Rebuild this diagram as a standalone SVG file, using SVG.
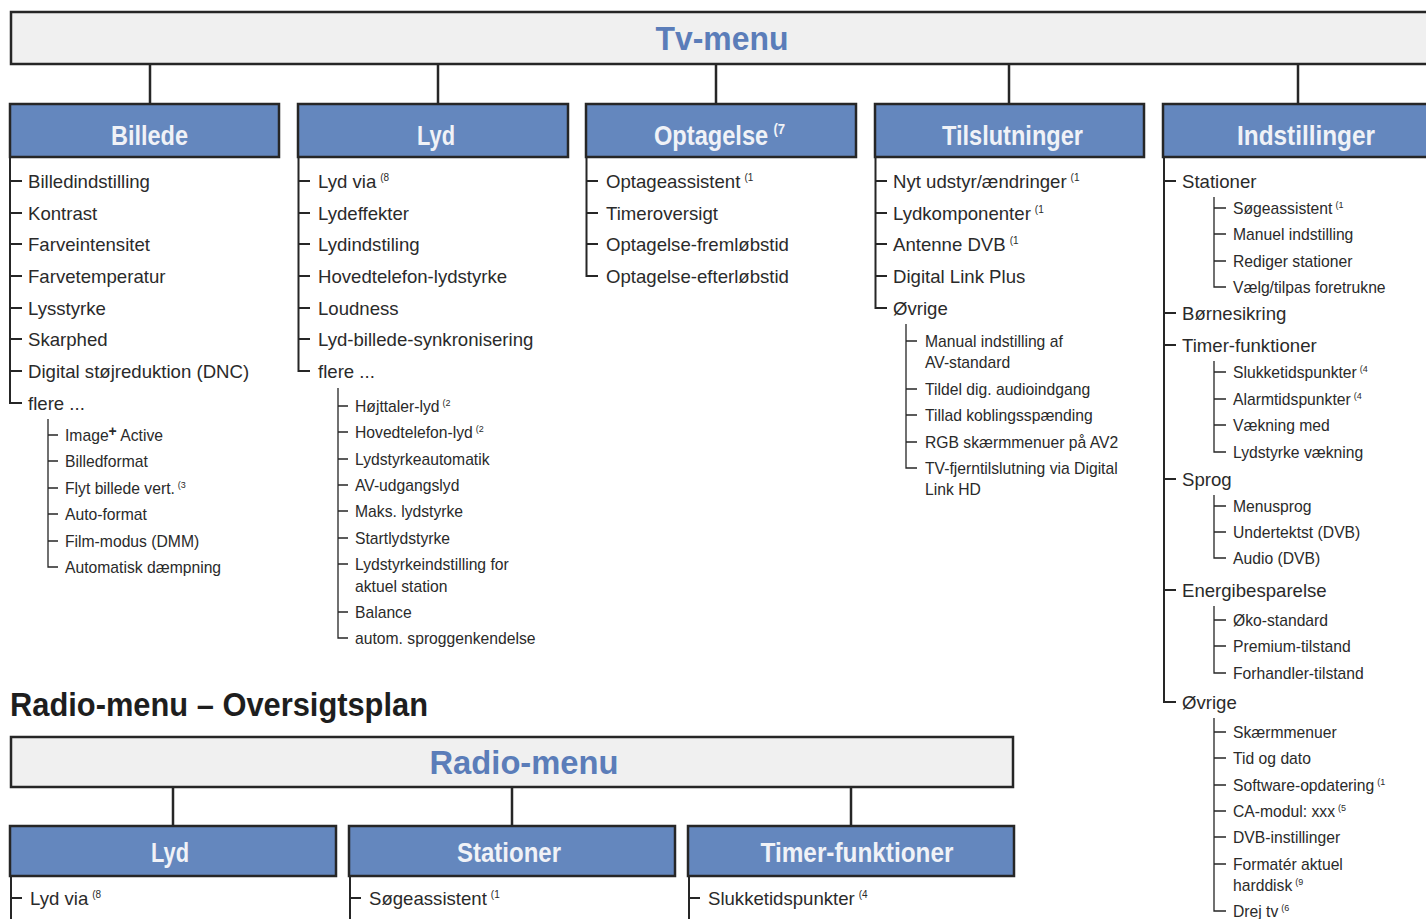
<svg xmlns="http://www.w3.org/2000/svg" width="1426" height="919" viewBox="0 0 1426 919">
<style>
text{font-family:"Liberation Sans",Arial,sans-serif;fill:#2a2a2a}
.bar{fill:#f0f0f0;stroke:#262626;stroke-width:2.5}
.box{fill:#6487be;stroke:#262626;stroke-width:2.5}
.mt{font-weight:bold;font-size:33px;fill:#5b7db9;text-anchor:middle}
.bt{font-weight:bold;font-size:27px;fill:#f0f2f7;text-anchor:middle}
.h{font-weight:bold;font-size:33px;fill:#1e1e1e}
.it{font-size:18.6px}
.si{font-size:15.7px}
.sup{font-size:10px}
.ln{stroke:#262626;stroke-width:2;fill:none}
.sl{stroke:#262626;stroke-width:1.3;fill:none}
.cn{stroke:#262626;stroke-width:2.5;fill:none}
</style>

<g id="connectors">
<path class="cn" d="M150 64V104M438 64V104M716 64V104M1009 64V104M1298 64V104"/>
<path class="cn" d="M173 787V826M512 787V826M851 787V826"/>
</g>

<g id="tv-menu">
<rect class="bar" x="11" y="12" width="1430" height="52"/>
<text class="mt" x="722" y="50" textLength="133" lengthAdjust="spacingAndGlyphs">Tv-menu</text>
</g>

<g id="billede">
<rect class="box" x="10" y="104" width="269" height="53"/>
<text class="bt" x="149.5" y="145" textLength="77" lengthAdjust="spacingAndGlyphs">Billede</text>
<path class="ln" d="M10 157V403H22M10 181H22M10 213H22M10 244H22M10 276H22M10 308H22M10 339H22M10 371H22"/>
<text class="it" x="28" y="188">Billedindstilling</text>
<text class="it" x="28" y="220">Kontrast</text>
<text class="it" x="28" y="251">Farveintensitet</text>
<text class="it" x="28" y="283">Farvetemperatur</text>
<text class="it" x="28" y="315">Lysstyrke</text>
<text class="it" x="28" y="346">Skarphed</text>
<text class="it" x="28" y="378">Digital støjreduktion (DNC)</text>
<text class="it" x="28" y="410">flere ...</text>
<path class="sl" d="M48 419V567H58M48 435H58M48 461H58M48 488H58M48 514H58M48 541H58"/>
<text class="si" x="65" y="441">Image<tspan font-weight="bold" font-size="14" dy="-5">+</tspan><tspan dy="5"> Active</tspan></text>
<text class="si" x="65" y="467">Billedformat</text>
<text class="si" x="65" y="494">Flyt billede vert.<tspan font-size="9" dx="3" dy="-6">(3</tspan></text>
<text class="si" x="65" y="520">Auto-format</text>
<text class="si" x="65" y="547">Film-modus (DMM)</text>
<text class="si" x="65" y="573">Automatisk dæmpning</text>
</g>

<g id="lyd">
<rect class="box" x="298" y="104" width="270" height="53"/>
<text class="bt" x="436" y="145" textLength="38" lengthAdjust="spacingAndGlyphs">Lyd</text>
<path class="ln" d="M298.5 157V371H310M298.5 181H310M298.5 213H310M298.5 244H310M298.5 276H310M298.5 308H310M298.5 339H310"/>
<text class="it" x="318" y="188">Lyd via<tspan class="sup" dx="4" dy="-7">(8</tspan></text>
<text class="it" x="318" y="220">Lydeffekter</text>
<text class="it" x="318" y="251">Lydindstiling</text>
<text class="it" x="318" y="283">Hovedtelefon-lydstyrke</text>
<text class="it" x="318" y="315">Loudness</text>
<text class="it" x="318" y="346">Lyd-billede-synkronisering</text>
<text class="it" x="318" y="378">flere ...</text>
<path class="sl" d="M338 388V638H348M338 406H348M338 432H348M338 459H348M338 485H348M338 511H348M338 538H348M338 564H348M338 612H348"/>
<text class="si" x="355" y="412">Højttaler-lyd<tspan font-size="9" dx="3" dy="-6">(2</tspan></text>
<text class="si" x="355" y="438">Hovedtelefon-lyd<tspan font-size="9" dx="3" dy="-6">(2</tspan></text>
<text class="si" x="355" y="465">Lydstyrkeautomatik</text>
<text class="si" x="355" y="491">AV-udgangslyd</text>
<text class="si" x="355" y="517">Maks. lydstyrke</text>
<text class="si" x="355" y="544">Startlydstyrke</text>
<text class="si" x="355" y="570">Lydstyrkeindstilling for</text>
<text class="si" x="355" y="592">aktuel station</text>
<text class="si" x="355" y="618">Balance</text>
<text class="si" x="355" y="644">autom. sproggenkendelse</text>
</g>

<g id="optagelse">
<rect class="box" x="586" y="104" width="270" height="53"/>
<text class="bt" transform="translate(654 145) scale(0.875 1)" style="text-anchor:start">Optagelse<tspan font-size="15" dx="6" dy="-11">(7</tspan></text>
<path class="ln" d="M586.5 157V276H598M586.5 181H598M586.5 213H598M586.5 244H598"/>
<text class="it" x="606" y="188">Optageassistent<tspan class="sup" dx="4" dy="-7">(1</tspan></text>
<text class="it" x="606" y="220">Timeroversigt</text>
<text class="it" x="606" y="251">Optagelse-fremløbstid</text>
<text class="it" x="606" y="283">Optagelse-efterløbstid</text>
</g>

<g id="tilslutninger">
<rect class="box" x="875" y="104" width="269" height="53"/>
<text class="bt" x="1012.5" y="145" textLength="141" lengthAdjust="spacingAndGlyphs">Tilslutninger</text>
<path class="ln" d="M875.5 157V308H887M875.5 181H887M875.5 213H887M875.5 244H887M875.5 276H887"/>
<text class="it" x="893" y="188">Nyt udstyr/ændringer<tspan class="sup" dx="4" dy="-7">(1</tspan></text>
<text class="it" x="893" y="220">Lydkomponenter<tspan class="sup" dx="4" dy="-7">(1</tspan></text>
<text class="it" x="893" y="251">Antenne DVB<tspan class="sup" dx="4" dy="-7">(1</tspan></text>
<text class="it" x="893" y="283">Digital Link Plus</text>
<text class="it" x="893" y="315">Øvrige</text>
<path class="sl" d="M906 324V468H917M906 341H917M906 389H917M906 415H917M906 442H917"/>
<text class="si" x="925" y="347">Manual indstilling af</text>
<text class="si" x="925" y="368">AV-standard</text>
<text class="si" x="925" y="395">Tildel dig. audioindgang</text>
<text class="si" x="925" y="421">Tillad koblingsspænding</text>
<text class="si" x="925" y="448">RGB skærmmenuer på AV2</text>
<text class="si" x="925" y="474">TV-fjerntilslutning via Digital</text>
<text class="si" x="925" y="495">Link HD</text>
</g>

<g id="indstillinger">
<rect class="box" x="1163" y="104" width="290" height="53"/>
<text class="bt" x="1306" y="145" textLength="138" lengthAdjust="spacingAndGlyphs">Indstillinger</text>
<path class="ln" d="M1164 157V702H1176M1164 181H1176M1164 313H1176M1164 345H1176M1164 479H1176M1164 590H1176"/>
<text class="it" x="1182" y="188">Stationer</text>
<text class="it" x="1182" y="320">Børnesikring</text>
<text class="it" x="1182" y="352">Timer-funktioner</text>
<text class="it" x="1182" y="486">Sprog</text>
<text class="it" x="1182" y="597">Energibesparelse</text>
<text class="it" x="1182" y="709">Øvrige</text>
<path class="sl" d="M1214 197V287H1226M1214 208H1226M1214 234H1226M1214 261H1226"/>
<text class="si" x="1233" y="214">Søgeassistent<tspan font-size="9" dx="3" dy="-6">(1</tspan></text>
<text class="si" x="1233" y="240">Manuel indstilling</text>
<text class="si" x="1233" y="267">Rediger stationer</text>
<text class="si" x="1233" y="293">Vælg/tilpas foretrukne</text>
<path class="sl" d="M1214 361V452H1226M1214 372H1226M1214 399H1226M1214 425H1226"/>
<text class="si" x="1233" y="378">Slukketidspunkter<tspan font-size="9" dx="3" dy="-6">(4</tspan></text>
<text class="si" x="1233" y="405">Alarmtidspunkter<tspan font-size="9" dx="3" dy="-6">(4</tspan></text>
<text class="si" x="1233" y="431">Vækning med</text>
<text class="si" x="1233" y="458">Lydstyrke vækning</text>
<path class="sl" d="M1214 495V558H1226M1214 506H1226M1214 532H1226"/>
<text class="si" x="1233" y="512">Menusprog</text>
<text class="si" x="1233" y="538">Undertektst (DVB)</text>
<text class="si" x="1233" y="564">Audio (DVB)</text>
<path class="sl" d="M1214 606V673H1226M1214 620H1226M1214 646H1226"/>
<text class="si" x="1233" y="626">Øko-standard</text>
<text class="si" x="1233" y="652">Premium-tilstand</text>
<text class="si" x="1233" y="679">Forhandler-tilstand</text>
<path class="sl" d="M1214 718V911H1226M1214 732H1226M1214 758H1226M1214 785H1226M1214 811H1226M1214 837H1226M1214 864H1226"/>
<text class="si" x="1233" y="738">Skærmmenuer</text>
<text class="si" x="1233" y="764">Tid og dato</text>
<text class="si" x="1233" y="791">Software-opdatering<tspan font-size="9" dx="3" dy="-6">(1</tspan></text>
<text class="si" x="1233" y="817">CA-modul: xxx<tspan font-size="9" dx="3" dy="-6">(5</tspan></text>
<text class="si" x="1233" y="843">DVB-instillinger</text>
<text class="si" x="1233" y="870">Formatér aktuel</text>
<text class="si" x="1233" y="891">harddisk<tspan font-size="9" dx="3" dy="-6">(9</tspan></text>
<text class="si" x="1233" y="917">Drej tv<tspan font-size="9" dx="3" dy="-6">(6</tspan></text>
</g>

<g id="radio-heading">
<text class="h" x="10" y="716" textLength="418" lengthAdjust="spacingAndGlyphs">Radio-menu – Oversigtsplan</text>
</g>

<g id="radio-menu">
<rect class="bar" x="11" y="737" width="1002" height="50"/>
<text class="mt" x="524" y="774" textLength="189" lengthAdjust="spacingAndGlyphs">Radio-menu</text>
</g>

<g id="radio-lyd">
<rect class="box" x="10" y="826" width="326" height="50"/>
<text class="bt" x="170" y="862" textLength="38" lengthAdjust="spacingAndGlyphs">Lyd</text>
<path class="ln" d="M11 876V925M11 898H22"/>
<text class="it" x="30" y="905">Lyd via<tspan class="sup" dx="4" dy="-7">(8</tspan></text>
</g>

<g id="radio-stationer">
<rect class="box" x="349" y="826" width="326" height="50"/>
<text class="bt" x="509" y="862" textLength="104" lengthAdjust="spacingAndGlyphs">Stationer</text>
<path class="ln" d="M350 876V925M350 898H361"/>
<text class="it" x="369" y="905">Søgeassistent<tspan class="sup" dx="4" dy="-7">(1</tspan></text>
</g>

<g id="radio-timer">
<rect class="box" x="688" y="826" width="326" height="50"/>
<text class="bt" x="857" y="862" textLength="193" lengthAdjust="spacingAndGlyphs">Timer-funktioner</text>
<path class="ln" d="M689 876V925M689 898H700"/>
<text class="it" x="708" y="905">Slukketidspunkter<tspan class="sup" dx="4" dy="-7">(4</tspan></text>
</g>
</svg>
